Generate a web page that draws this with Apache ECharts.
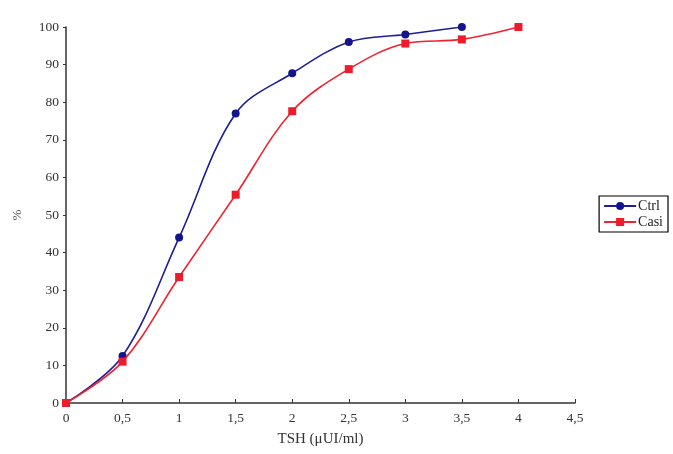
<!DOCTYPE html>
<html>
<head>
<meta charset="utf-8">
<script src="https://cdn.jsdelivr.net/npm/echarts@6/dist/echarts.min.js"></script>
<style>
  html, body { margin: 0; padding: 0; background: #fff; }
  #chart { width: 673px; height: 454px; }
</style>
</head>
<body>
<div id="chart"></div>
<script>
// TSH values (x) and cumulative % for each group
var tshCtrl = [0, 0.5, 1, 1.5, 2, 2.5, 3, 3.5];
var pctCtrl = [0, 12.5, 44, 77, 87.7, 96, 98, 100];

var tshCasi = [0, 0.5, 1, 1.5, 2, 2.5, 3, 3.5, 4];
var pctCasi = [0, 11, 33.5, 55.4, 77.6, 88.8, 95.6, 96.7, 100];

var seriesNames = ['Ctrl', 'Casi'];

function pairs(xs, ys) {
  return xs.map(function (x, i) { return [x, ys[i]]; });
}

var font = '"Liberation Serif", "DejaVu Serif", serif';

var chart = echarts.init(document.getElementById('chart'));
chart.setOption({
  animation: false,
  textStyle: { fontFamily: font },
  grid: { left: 66, right: 98, top: 27, bottom: 51 },
  legend: {
    orient: 'vertical',
    right: 5,
    top: 196,
    padding: [3, 5, 3, 4],
    itemGap: 2,
    itemWidth: 32,
    itemHeight: 10,
    borderColor: '#000',
    borderWidth: 1.2,
    borderRadius: 0,
    textStyle: { fontFamily: font, fontSize: 14, color: '#222', padding: [0, 0, 0, -3] },
    data: seriesNames
  },
  xAxis: {
    type: 'value',
    min: 0,
    max: 4.5,
    interval: 0.5,
    name: 'TSH (\u03bcUI/ml)',
    nameLocation: 'middle',
    nameGap: 29,
    nameTextStyle: { fontFamily: font, fontSize: 15, color: '#333' },
    axisLine: { lineStyle: { color: '#333', width: 1.5 } },
    axisTick: { inside: true, length: 4, lineStyle: { color: '#333' } },
    axisLabel: {
      color: '#333', fontSize: 13.5, margin: 8,
      formatter: function (v) { return String(v).replace('.', ','); }
    },
    splitLine: { show: false }
  },
  yAxis: {
    type: 'value',
    min: 0,
    max: 100,
    interval: 10,
    name: '%',
    nameLocation: 'middle',
    nameGap: 42,
    nameRotate: 90,
    nameTextStyle: { fontFamily: font, fontSize: 13, color: '#555' },
    axisLine: { show: true, lineStyle: { color: '#333', width: 1.5 } },
    axisTick: { show: true, length: 3, lineStyle: { color: '#333' } },
    axisLabel: { color: '#333', fontSize: 13.5, margin: 7 },
    splitLine: { show: false }
  },
  series: [
    {
      name: 'Ctrl',
      type: 'line',
      data: pairs(tshCtrl, pctCtrl),
      smooth: 0.35,
      symbol: 'circle',
      symbolSize: 8,
      lineStyle: { color: '#1e1e96', width: 1.6 },
      itemStyle: { color: '#14148c' },
      z: 3
    },
    {
      name: 'Casi',
      type: 'line',
      data: pairs(tshCasi, pctCasi),
      smooth: 0.35,
      symbol: 'rect',
      symbolSize: 8,
      lineStyle: { color: '#f0222e', width: 1.6 },
      itemStyle: { color: '#ee1c2a' },
      z: 4
    }
  ]
});
</script>
</body>
</html>
